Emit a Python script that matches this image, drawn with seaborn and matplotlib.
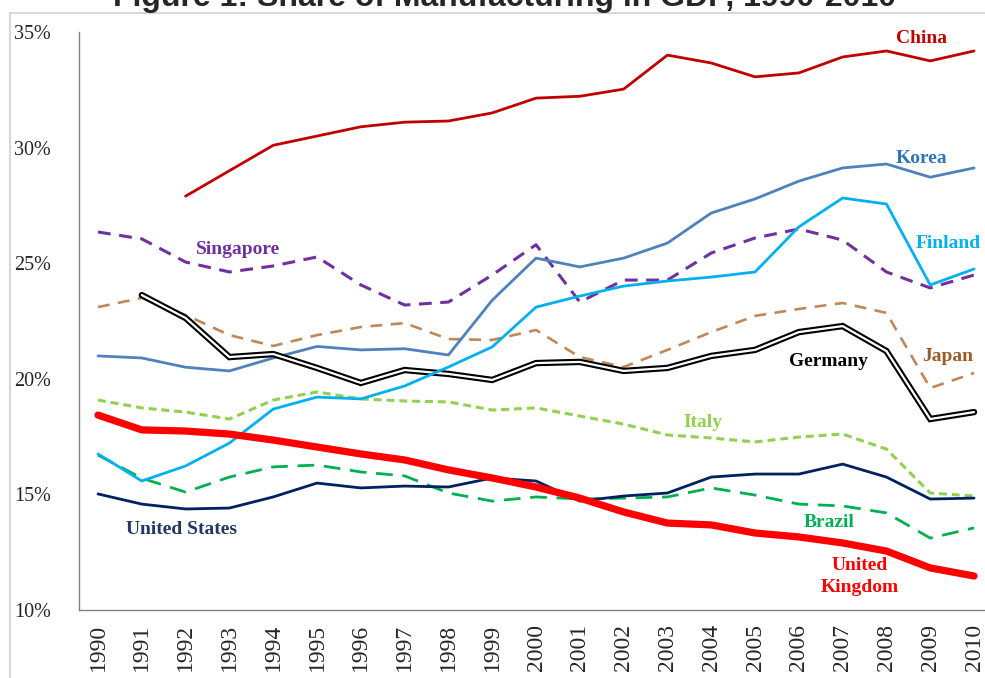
import numpy as np
import pandas as pd
import matplotlib
matplotlib.use("Agg")
import matplotlib.pyplot as plt
from matplotlib.lines import Line2D
import seaborn as sns

years = list(range(1990, 2011))
year_labels = [str(y) for y in years]

china = [np.nan, np.nan, 27.9, 29.0, 30.1, 30.5, 30.9, 31.1, 31.15, 31.5, 32.14,
         32.22, 32.53, 34.0, 33.66, 33.06, 33.23, 33.92, 34.18, 33.75, 34.18]
korea = [20.99, 20.9, 20.5, 20.34, 20.9, 21.4, 21.25, 21.3, 21.03, 23.4, 25.22,
         24.84, 25.22, 25.87, 27.17, 27.78, 28.55, 29.12, 29.29, 28.72, 29.12]
finland = [16.75, 15.58, 16.23, 17.22, 18.69, 19.21, 19.13, 19.69, 20.51, 21.38, 23.1,
           23.58, 24.01, 24.23, 24.4, 24.62, 26.57, 27.82, 27.56, 24.06, 24.75]
singapore = [26.35, 26.05, 25.05, 24.62, 24.88, 25.27, 24.06, 23.19, 23.32, 24.49, 25.8,
             23.32, 24.27, 24.27, 25.44, 26.09, 26.48, 26.0, 24.62, 23.93, 24.49]
japan = [23.1, 23.5, 22.76, 21.89, 21.42, 21.89, 22.24, 22.41, 21.72, 21.68, 22.11,
         20.94, 20.51, 21.25, 22.02, 22.72, 23.02, 23.28, 22.85, 19.6, 20.25]
germany = [np.nan, 23.62, 22.63, 20.94, 21.07, 20.47, 19.82, 20.38, 20.21, 19.95, 20.68,
           20.73, 20.34, 20.47, 20.99, 21.25, 22.02, 22.28, 21.2, 18.26, 18.56]
italy = [19.08, 18.74, 18.56, 18.26, 19.08, 19.43, 19.13, 19.04, 19.0, 18.65, 18.74,
         18.39, 18.04, 17.57, 17.44, 17.27, 17.48, 17.61, 16.96, 15.06, 14.93]
united_states = [15.02, 14.58, 14.37, 14.41, 14.89, 15.49, 15.28, 15.36, 15.32, 15.71, 15.58,
                 14.71, 14.93, 15.06, 15.75, 15.88, 15.88, 16.31, 15.75, 14.8, 14.84]
brazil = [16.7, 15.7, 15.1, 15.75, 16.19, 16.27, 15.97, 15.8, 15.06, 14.71, 14.89,
          14.8, 14.84, 14.89, 15.28, 14.97, 14.58, 14.5, 14.2, 13.11, 13.55]
united_kingdom = [18.43, 17.79, 17.74, 17.61, 17.35, 17.05, 16.75, 16.49, 16.06, 15.71, 15.32,
                  14.84, 14.24, 13.76, 13.68, 13.33, 13.16, 12.9, 12.55, 11.82, 11.47]

series_names = ["China", "Korea", "Finland", "Singapore", "Japan", "Germany",
                "Italy", "United States", "Brazil", "United Kingdom"]
series_values = [china, korea, finland, singapore, japan, germany,
                 italy, united_states, brazil, united_kingdom]

y_ticks = [10, 15, 20, 25, 30, 35]
y_tick_labels = ["10%", "15%", "20%", "25%", "30%", "35%"]
title = "Figure 1: Share of Manufacturing in GDP, 1990-2010"

sns.set_theme(style="white")
plt.rcParams["font.family"] = ["Liberation Serif", "DejaVu Serif"]

W, H = 985, 678
fig = plt.figure(figsize=(W / 100, H / 100), dpi=100)
ax = fig.add_axes([79 / W, 68 / H, (W - 79) / W, 578 / H])

styles = {
    "China": dict(color="#C00000", lw=2.0, ls="-"),
    "Korea": dict(color="#4F81BD", lw=2.0, ls="-"),
    "Finland": dict(color="#00B0F0", lw=2.0, ls="-"),
    "Singapore": dict(color="#7030A0", lw=2.2, ls=(0, (4.2, 2.8))),
    "Japan": dict(color="#C0875A", lw=1.9, ls=(0, (4.5, 3.2))),
    "Italy": dict(color="#92D050", lw=2.2, ls=(0, (2.6, 1.6))),
    "United States": dict(color="#002060", lw=2.0, ls="-"),
    "Brazil": dict(color="#00B050", lw=2.0, ls=(0, (6.0, 3.5))),
    "United Kingdom": dict(color="#FF0000", lw=5.2, ls="-"),
}

df = pd.DataFrame({"year": np.repeat(years, len(series_names)),
                   "country": series_names * len(years),
                   "share": np.array(series_values).T.ravel()}).dropna()

order = ["Japan", "Singapore", "Korea", "China", "Germany", "Italy", "Brazil",
         "United States", "Finland", "United Kingdom"]
for name in order:
    sub = df[df["country"] == name]
    if name == "Germany":
        sns.lineplot(data=sub, x="year", y="share", ax=ax, color="black",
                     lw=4.6, solid_capstyle="round", solid_joinstyle="miter")
        sns.lineplot(data=sub, x="year", y="share", ax=ax, color="white",
                     lw=1.6, solid_joinstyle="miter")
    else:
        st = styles[name]
        sns.lineplot(data=sub, x="year", y="share", ax=ax, color=st["color"],
                     lw=st["lw"], linestyle=st["ls"])

ax.set_xlim(1990 - 0.434, 2010.25)
ax.set_ylim(10, 35)
ax.set_xticks(years)
ax.set_xticklabels(year_labels, rotation=90, fontsize=17)
ax.set_yticks(y_ticks)
ax.set_yticklabels(y_tick_labels, fontsize=14.5)
ax.tick_params(axis="y", length=0, pad=20)
ax.tick_params(axis="x", length=0, pad=10)
ax.set_xlabel("")
ax.set_ylabel("")
for s in ["top", "right"]:
    ax.spines[s].set_visible(False)
for s in ["left", "bottom"]:
    ax.spines[s].set_color("#808080")
    ax.spines[s].set_linewidth(1.0)
ax.grid(False)

# series labels (year, value) positions
label_info = [
    ("China", 2008.8, 34.7, "#C00000"),
    ("Korea", 2008.8, 29.55, "#2E75B6"),
    ("Finland", 2009.4, 25.85, "#00B0F0"),
    ("Singapore", 1993.2, 25.6, "#7030A0"),
    ("Japan", 2009.4, 20.95, "#9C5B2A"),
    ("Germany", 2006.67, 20.75, "black"),
    ("Italy", 2003.8, 18.12, "#92D050"),
    ("United States", 1991.9, 13.5, "#1F3864"),
    ("Brazil", 2006.7, 13.8, "#00B050"),
    ("United\nKingdom", 2007.38, 11.45, "#FF0000"),
]
for txt, xv, yv, c in label_info:
    ax.text(xv, yv, txt, color=c, fontsize=14, fontweight="bold",
            ha="center", va="center", linespacing=1.4)

fig.text(505 / W, 1 - 6 / H, title, ha="center", va="baseline",
         fontsize=23, fontweight="bold", family=["Liberation Sans", "DejaVu Sans"])

fig.add_artist(Line2D([10 / W, 1], [1 - 12.5 / H, 1 - 12.5 / H],
                      transform=fig.transFigure, color="#D0D0D0", lw=1.2))
fig.add_artist(Line2D([10 / W, 10 / W], [0, 1 - 12.5 / H],
                      transform=fig.transFigure, color="#D0D0D0", lw=1.2))

fig.savefig("out.png", dpi=100)
